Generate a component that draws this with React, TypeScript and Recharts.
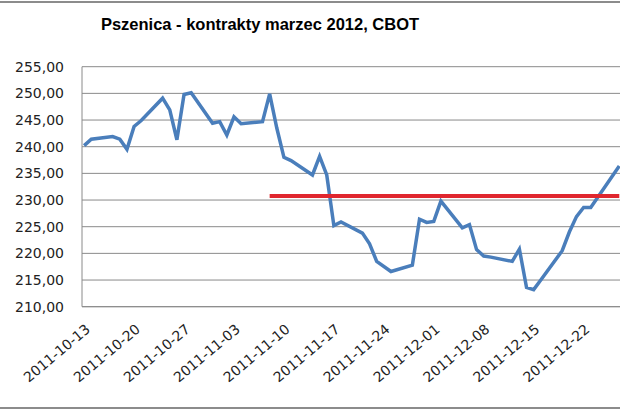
import { LineChart, Line, XAxis, YAxis, CartesianGrid } from "recharts"

// notowania
const dates = [
  "2011-10-13", "2011-10-14", "2011-10-17", "2011-10-18", "2011-10-19", "2011-10-20", "2011-10-21",
  "2011-10-24", "2011-10-25", "2011-10-26", "2011-10-27", "2011-10-28",
  "2011-10-31", "2011-11-01", "2011-11-02", "2011-11-03", "2011-11-04",
  "2011-11-07", "2011-11-08", "2011-11-09", "2011-11-10", "2011-11-11",
  "2011-11-14", "2011-11-15", "2011-11-16", "2011-11-17", "2011-11-18",
  "2011-11-21", "2011-11-22", "2011-11-23", "2011-11-25",
  "2011-11-28", "2011-11-29", "2011-11-30", "2011-12-01", "2011-12-02",
  "2011-12-05", "2011-12-06", "2011-12-07", "2011-12-08", "2011-12-09",
  "2011-12-12", "2011-12-13", "2011-12-14", "2011-12-15", "2011-12-16",
  "2011-12-19", "2011-12-20", "2011-12-21", "2011-12-22", "2011-12-23",
  "2011-12-27",
]
const prices = [
  240.2, 241.4, 241.9, 241.4, 239.5, 243.8, 244.9,
  249.1, 246.9, 241.3, 249.8, 250.1,
  244.4, 244.7, 242.2, 245.6, 244.3,
  244.7, 249.9, 243.5, 238.0, 237.4,
  234.7, 238.2, 234.7, 225.2, 225.9,
  223.8, 221.8, 218.5, 216.6,
  217.8, 226.4, 225.8, 226.0, 229.8,
  224.8, 225.4, 220.7, 219.5, 219.3,
  218.5, 220.8, 213.6, 213.2, 215.0,
  220.5, 224.0, 226.9, 228.6, 228.6,
  236.4,
]

// czerwona linia poziomu
const levelDates = ["2011-11-08", "2011-12-27"]
const levelValues = [230.75, 230.75]

const tickDates = [
  "2011-10-13", "2011-10-20", "2011-10-27", "2011-11-03", "2011-11-10", "2011-11-17",
  "2011-11-24", "2011-12-01", "2011-12-08", "2011-12-15", "2011-12-22",
]
const yTicks = [210, 215, 220, 225, 230, 235, 240, 245, 250, 255]

const DAY = 86400000
const start = Date.parse(dates[0])
const dayOf = (d: string) => Math.round((Date.parse(d) - start) / DAY)

const data = dates.map((d, i) => ({ day: dayOf(d), price: prices[i] }))
const level = levelDates.map((d, i) => ({ day: dayOf(d), level: levelValues[i] }))
const xTicks = tickDates.map(dayOf)

const fmt = (v: number) => v.toFixed(2).replace(".", ",")

function DateTick({ x, y, payload }: any) {
  const label = tickDates[xTicks.indexOf(payload.value)]
  const tx = x + 7
  const ty = y + 24
  return (
    <text
      x={tx}
      y={ty}
      transform={`rotate(-40 ${tx} ${ty})`}
      textAnchor="end"
      fontSize={14}
      fontFamily="DejaVu Sans"
      fill="#222"
    >
      {label}
    </text>
  )
}

export default function App() {
  return (
    <div
      style={{
        position: "fixed",
        top: 0,
        left: 0,
        width: 620,
        height: 413,
        background: "#fff",
        overflow: "hidden",
      }}
    >
      <div style={{ position: "absolute", top: 1, left: 0, width: 620, borderTop: "2px solid #8c8c8c" }} />
      <div style={{ position: "absolute", top: 407, left: 0, width: 620, borderTop: "2px solid #8c8c8c" }} />
      <div
        style={{
          position: "absolute",
          top: 16,
          left: 0,
          width: 520,
          textAlign: "center",
          fontFamily: "Liberation Sans",
          fontWeight: "bold",
          fontSize: 16.5,
          lineHeight: "16.5px",
          color: "#000",
        }}
      >
        Pszenica - kontrakty marzec 2012, CBOT
      </div>
      <LineChart
        width={620}
        height={413}
        data={data}
        margin={{ top: 66.7, right: 0, bottom: 0, left: 0 }}
        style={{ position: "absolute", top: 0, left: 0 }}
      >
        <CartesianGrid vertical={false} stroke="#8a8a8a" />
        <XAxis
          dataKey="day"
          type="number"
          domain={[-0.3, 75.1]}
          ticks={xTicks}
          interval={0}
          height={106.3}
          tickLine={false}
          tickSize={0}
          tickMargin={0}
          axisLine={{ stroke: "#8a8a8a" }}
          tick={<DateTick />}
          allowDataOverflow
        />
        <YAxis
          domain={[210, 255]}
          ticks={yTicks}
          width={82}
          tickLine={false}
          tickSize={0}
          tickMargin={18}
          tickFormatter={fmt}
          axisLine={{ stroke: "#8a8a8a" }}
          tick={{ fontSize: 14, fontFamily: "DejaVu Sans", fill: "#222" }}
          interval={0}
        />
        <Line
          dataKey="price"
          stroke="#4a7ebb"
          strokeWidth={3.5}
          dot={false}
          type="linear"
          isAnimationActive={false}
        />
        <Line
          data={level}
          dataKey="level"
          stroke="#e0262e"
          strokeWidth={4}
          dot={false}
          type="linear"
          isAnimationActive={false}
        />
      </LineChart>
    </div>
  )
}
